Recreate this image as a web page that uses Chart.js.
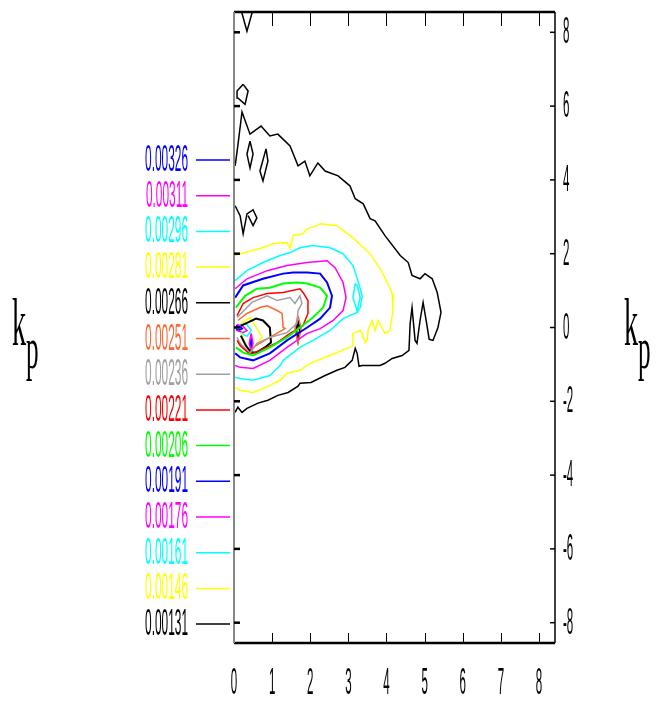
<!DOCTYPE html>
<html>
<head>
<meta charset="utf-8">
<script src="https://cdn.jsdelivr.net/npm/chart.js@4.4.0/dist/chart.umd.min.js"></script>
<style>
  html, body { margin: 0; padding: 0; background: #fff; }
  #wrap { width: 662px; height: 702px; }
</style>
</head>
<body>
<div id="wrap"><canvas id="chart" width="662" height="702"></canvas></div>
<script>
// contour levels (low -> high) and their colours
const levels = [0.00131, 0.00146, 0.00161, 0.00176, 0.00191, 0.00206, 0.00221,
                0.00236, 0.00251, 0.00266, 0.00281, 0.00296, 0.00311, 0.00326];
const levelColors = ['#000000', '#ffff00', '#00ffff', '#ff00ff', '#0000ff', '#00ff00', '#ff0000',
                     '#a0a0a0', '#ff6633', '#000000', '#ffff00', '#00ffff', '#ff00ff', '#0000ff'];
const levelWidths = [1.5, 1.5, 1.5, 1.5, 2, 2, 1.5, 1.5, 1.5, 2, 1.5, 1.5, 1.5, 2];

const xTicks = [0, 1, 2, 3, 4, 5, 6, 7, 8];
const yTicks = [8, 6, 4, 2, 0, -2, -4, -6, -8];
const yTickLabels = ['8', '6', '4', '2', '0', '-2', '-4', '-6', '-8'];
const axisTitle = 'k';
const axisSub = 'p';

// contour lines, [x, kp] pairs
const c131 = [[0.03,4.38],[0.10,4.92],[0.21,5.84],[0.42,5.24],[0.71,5.46],[0.94,5.19],[1.15,5.24],[1.47,4.92],
  [1.68,4.38],[1.86,4.51],[1.99,4.11],[2.20,4.46],[2.39,4.24],[2.73,4.11],[3.04,3.84],[3.18,3.49],[3.39,3.35],
  [3.57,2.95],[3.70,2.89],[3.96,2.49],[4.36,1.95],[4.57,1.76],[4.67,1.41],[4.88,1.32],[5.01,1.46],[5.20,1.32],
  [5.33,0.95],[5.43,0.41],[5.35,0],[5.22,-0.35],[5.12,-0.32],[5.04,0.19],[4.96,0.68],[4.88,0.19],[4.80,-0.43],
  [4.75,-0.35],[4.67,0.54],[4.62,0.11],[4.59,-0.62],[4.41,-0.76],[4.15,-0.84],[3.96,-0.97],[3.83,-1.03],
  [3.36,-1.03],[3.28,-1.05],[3.23,-0.70],[3.18,-0.57],[3.10,-0.89],[2.91,-1.08],[2.70,-1.16],[2.39,-1.30],
  [2.02,-1.49],[1.73,-1.51],[1.68,-1.59],[1.42,-1.76],[1.15,-1.84],[0.89,-1.97],[0.63,-2.05],[0.34,-2.19],
  [0.21,-2.30],[0.10,-2.16],[0.03,-2.30]];
const c131b = [[0.16,8.7],[0.34,8.03],[0.52,8.7]];
const c131c = [[0.24,6.59],[0.37,6.41],[0.29,6.05],[0.10,6.22],[0.08,6.41],[0.24,6.59]];
const c131d = [[0.42,5.05],[0.50,4.70],[0.42,4.32],[0.34,4.70],[0.42,5.05]];
const c131e = [[0.84,4.84],[0.89,4.51],[0.76,3.97],[0.68,4.24],[0.79,4.65],[0.84,4.84]];
const c131f = [[0.03,3.30],[0.16,3.03],[0.24,2.54],[0.34,3.08],[0.50,3.19],[0.60,2.97],[0.50,2.76],[0.37,3.03]];
const c146 = [[0.03,1.95],[0.16,2.00],[0.68,2.14],[1.02,2.27],[1.39,2.30],[1.47,2.14],[1.55,2.49],[1.81,2.54],
  [1.92,2.68],[2.18,2.76],[2.26,2.81],[2.70,2.76],[3.12,2.43],[3.57,2.00],[3.91,1.46],[4.15,0.92],[4.17,0.46],
  [4.09,-0.08],[3.96,-0.16],[3.88,0],[3.78,0.19],[3.70,-0.08],[3.62,0.19],[3.52,-0.08],[3.49,-0.35],[3.44,-0.41],
  [3.36,-0.16],[3.31,-0.08],[3.12,-0.16],[3.12,-0.49],[2.52,-0.76],[1.99,-0.97],[1.73,-1.16],[1.39,-1.24],
  [1.21,-1.43],[0.94,-1.57],[0.50,-1.76],[0.16,-1.70],[0.03,-1.62]];
const c161 = [[0.03,1.27],[0.34,1.54],[0.76,1.76],[1.21,1.95],[1.47,2.03],[1.73,2.16],[2.07,2.22],[2.52,2.16],
  [2.86,2.00],[3.12,1.68],[3.25,1.27],[3.36,0.86],[3.31,0.54],[3.23,0.41],[2.86,0.24],[2.52,-0.08],[2.07,-0.35],
  [1.73,-0.54],[1.39,-0.81],[1.29,-0.89],[1.21,-1.03],[0.94,-1.30],[0.50,-1.43],[0.16,-1.38],[0.03,-1.35]];
const c161b = [[3.18,1.19],[3.12,0.81],[3.23,0.46],[3.31,0.81],[3.23,1.14],[3.18,1.19]];
const c176 = [[0.03,1.05],[0.34,1.32],[0.87,1.54],[1.39,1.68],[1.92,1.76],[2.44,1.81],[2.65,1.62],[2.86,1.22],
  [2.94,0.81],[2.86,0.46],[2.60,0.19],[2.26,-0.03],[1.92,-0.16],[1.65,-0.35],[1.39,-0.54],[0.94,-0.89],
  [0.50,-1.11],[0.16,-1.08],[0.03,-1.03]];
const c191 = [[0.03,0.81],[0.24,1.14],[0.76,1.32],[1.29,1.46],[1.55,1.49],[1.92,1.49],[2.26,1.46],[2.44,1.22],
  [2.57,0.86],[2.52,0.54],[2.26,0.24],[1.92,0],[1.39,-0.35],[0.94,-0.70],[0.50,-0.89],[0.16,-0.81],[0.03,-0.70]];
const c206 = [[0.05,0.54],[0.29,0.86],[0.60,1.05],[0.94,1.08],[1.29,1.19],[1.65,1.22],[1.92,1.19],[2.26,1.08],
  [2.44,0.86],[2.34,0.54],[2.07,0.27],[1.73,0],[1.39,-0.27],[0.94,-0.54],[0.50,-0.76],[0.24,-0.68],[0.05,-0.54]];
const c221 = [[0.08,0.32],[0.24,0.65],[0.50,0.81],[0.87,0.92],[1.29,0.95],[1.73,1.05],[1.81,0.95],[1.94,0.73],
  [1.94,0.38],[1.81,0.05],[1.47,-0.16],[1.13,-0.41],[0.68,-0.62],[0.42,-0.73],[0.16,-0.49],[0.08,-0.35]];
const c236 = [[0.08,0.27],[0.34,0.54],[0.47,0.68],[0.87,0.86],[1.13,0.73],[1.47,0.81],[1.60,0.65],[1.73,0.86],
  [1.78,0.65],[1.68,0.46],[1.65,0.11],[1.39,-0.14],[0.94,-0.27],[0.60,-0.43],[0.42,-0.70],[0.16,-0.43],[0.08,-0.27]];
const c251 = [[0.10,0.19],[0.34,0.38],[0.68,0.54],[0.87,0.59],[1.13,0.46],[1.26,0.38],[1.29,0],[1.34,-0.03],
  [0.94,-0.27],[0.50,-0.54],[0.42,-0.70],[0.24,-0.54],[0.10,-0.35]];
const c251b = [[1.68,0.32],[1.76,-0.03],[1.68,-0.41],[1.60,-0.03],[1.68,0.32]];
const c266 = [[0.18,0.05],[0.37,0.14],[0.58,0.24],[0.76,0.19],[0.94,0],[0.97,-0.41],[0.81,-0.54],[0.58,-0.68],
  [0.45,-0.68],[0.31,-0.49],[0.18,-0.22]];
const c266b = [[1.68,0.19],[1.73,-0.08],[1.68,-0.35],[1.63,-0.08],[1.68,0.19]];
const c281 = [[0.18,0.11],[0.42,0.27],[0.63,-0.08],[0.73,-0.27],[0.58,-0.49],[0.42,-0.68],[0.26,-0.35],[0.18,-0.14]];
const c281b = [[1.68,0.05],[1.71,-0.16],[1.68,-0.38],[1.65,-0.16],[1.68,0.05]];
const c296 = [[0.16,0.08],[0.34,0.08],[0.45,-0.08],[0.34,-0.24],[0.16,-0.14]];
const c311 = [[0.08,0.08],[0.24,0.03],[0.34,-0.08],[0.24,-0.14],[0.08,-0.08]];
const c311b = [[0.45,-0.16],[0.50,-0.43],[0.45,-0.65],[0.40,-0.43],[0.45,-0.16]];
const c326 = [[0.05,0.05],[0.16,0.03],[0.21,-0.03],[0.13,-0.08],[0.05,-0.05]];
const c326b = [[0.45,-0.30],[0.47,-0.43],[0.45,-0.52],[0.43,-0.43],[0.45,-0.30]];

// which level each line belongs to
const lines = [
  [0, c131], [0, c131b], [0, c131c], [0, c131d], [0, c131e], [0, c131f],
  [1, c146], [2, c161], [2, c161b], [3, c176], [4, c191], [5, c206], [6, c221], [7, c236],
  [8, c251], [8, c251b], [9, c266], [9, c266b], [10, c281], [10, c281b],
  [11, c296], [12, c311], [12, c311b], [13, c326], [13, c326b]
];

const datasets = lines.map(([lv, pts]) => ({
  data: pts.map(p => ({ x: p[0], y: p[1] })),
  showLine: true,
  borderColor: levelColors[lv],
  borderWidth: levelWidths[lv],
  pointRadius: 0,
  fill: false,
  tension: 0
}));

// narrow text like the original plot
function narrowText(ctx, txt, x, y, align, sx) {
  ctx.save();
  ctx.translate(x, y);
  ctx.scale(sx, 1);
  ctx.textAlign = align;
  ctx.fillText(txt, 0, 0);
  ctx.restore();
}

const framePlugin = {
  id: 'frame',
  afterDatasetsDraw(chart) {
    const ctx = chart.ctx;
    const a = chart.chartArea;
    const xs = chart.scales.x, ys = chart.scales.y;
    ctx.save();
    ctx.lineCap = 'butt';

    // frame
    ctx.strokeStyle = '#000';
    ctx.lineWidth = 2.5;
    ctx.beginPath(); ctx.moveTo(a.left, a.top); ctx.lineTo(a.right, a.top); ctx.stroke();
    ctx.beginPath(); ctx.moveTo(a.left, a.bottom); ctx.lineTo(a.right, a.bottom); ctx.stroke();
    ctx.lineWidth = 1.5;
    ctx.beginPath(); ctx.moveTo(a.right, a.top); ctx.lineTo(a.right, a.bottom); ctx.stroke();
    ctx.strokeStyle = '#888';
    ctx.lineWidth = 2;
    ctx.beginPath(); ctx.moveTo(a.left, a.top); ctx.lineTo(a.left, a.bottom); ctx.stroke();

    // x ticks top and bottom, inward
    ctx.strokeStyle = '#000';
    ctx.lineWidth = 1;
    xTicks.forEach(v => {
      const px = Math.round(xs.getPixelForValue(v)) + 0.5;
      if (v === 0) return;
      ctx.beginPath(); ctx.moveTo(px, a.top); ctx.lineTo(px, a.top + 14); ctx.stroke();
      ctx.beginPath(); ctx.moveTo(px, a.bottom); ctx.lineTo(px, a.bottom - 10); ctx.stroke();
    });
    // y ticks right and left, inward
    yTicks.forEach(v => {
      const py = ys.getPixelForValue(v);
      ctx.lineWidth = 1.5;
      ctx.beginPath(); ctx.moveTo(a.right, py); ctx.lineTo(a.right - 5, py); ctx.stroke();
      ctx.lineWidth = 2.5;
      ctx.beginPath(); ctx.moveTo(a.left, py); ctx.lineTo(a.left + 6, py); ctx.stroke();
    });

    // tick labels
    ctx.fillStyle = '#000';
    ctx.font = '36px "Liberation Sans", Arial, sans-serif';
    ctx.textBaseline = 'alphabetic';
    xTicks.forEach(v => {
      narrowText(ctx, String(v), xs.getPixelForValue(v), a.bottom + 51, 'center', 0.32);
    });
    yTicks.forEach((v, i) => {
      narrowText(ctx, yTickLabels[i], a.right + 8, ys.getPixelForValue(v) + 11, 'left', 0.32);
    });

    // level key on the left
    const keyTop = 160, keyStep = 35.7;
    for (let i = levels.length - 1, row = 0; i >= 0; i--, row++) {
      const yy = keyTop + row * keyStep;
      ctx.fillStyle = levelColors[i];
      narrowText(ctx, levels[i].toFixed(5), 188, yy + 11, 'right', 0.33);
      ctx.strokeStyle = levelColors[i];
      ctx.lineWidth = 1.5;
      ctx.beginPath(); ctx.moveTo(196, yy); ctx.lineTo(230, yy); ctx.stroke();
    }

    // k_p titles on both sides
    ctx.fillStyle = '#000';
    [[12, 345], [624, 345]].forEach(([tx, ty]) => {
      ctx.font = '67px "Liberation Serif", "Times New Roman", serif';
      narrowText(ctx, axisTitle, tx, ty, 'left', 0.42);
      ctx.font = '60px "Liberation Serif", "Times New Roman", serif';
      narrowText(ctx, axisSub, tx + 14, ty + 23, 'left', 0.42);
    });
    ctx.restore();
  }
};

new Chart(document.getElementById('chart'), {
  type: 'scatter',
  data: { datasets: datasets },
  options: {
    responsive: false,
    animation: false,
    devicePixelRatio: 1,
    layout: { padding: { left: 234, right: 107, top: 12, bottom: 59 } },
    plugins: { legend: { display: false }, tooltip: { enabled: false } },
    scales: {
      x: { type: 'linear', min: 0, max: 8.42, display: false },
      y: { type: 'linear', min: -8.55, max: 8.55, display: false }
    }
  },
  plugins: [framePlugin]
});
</script>
</body>
</html>
